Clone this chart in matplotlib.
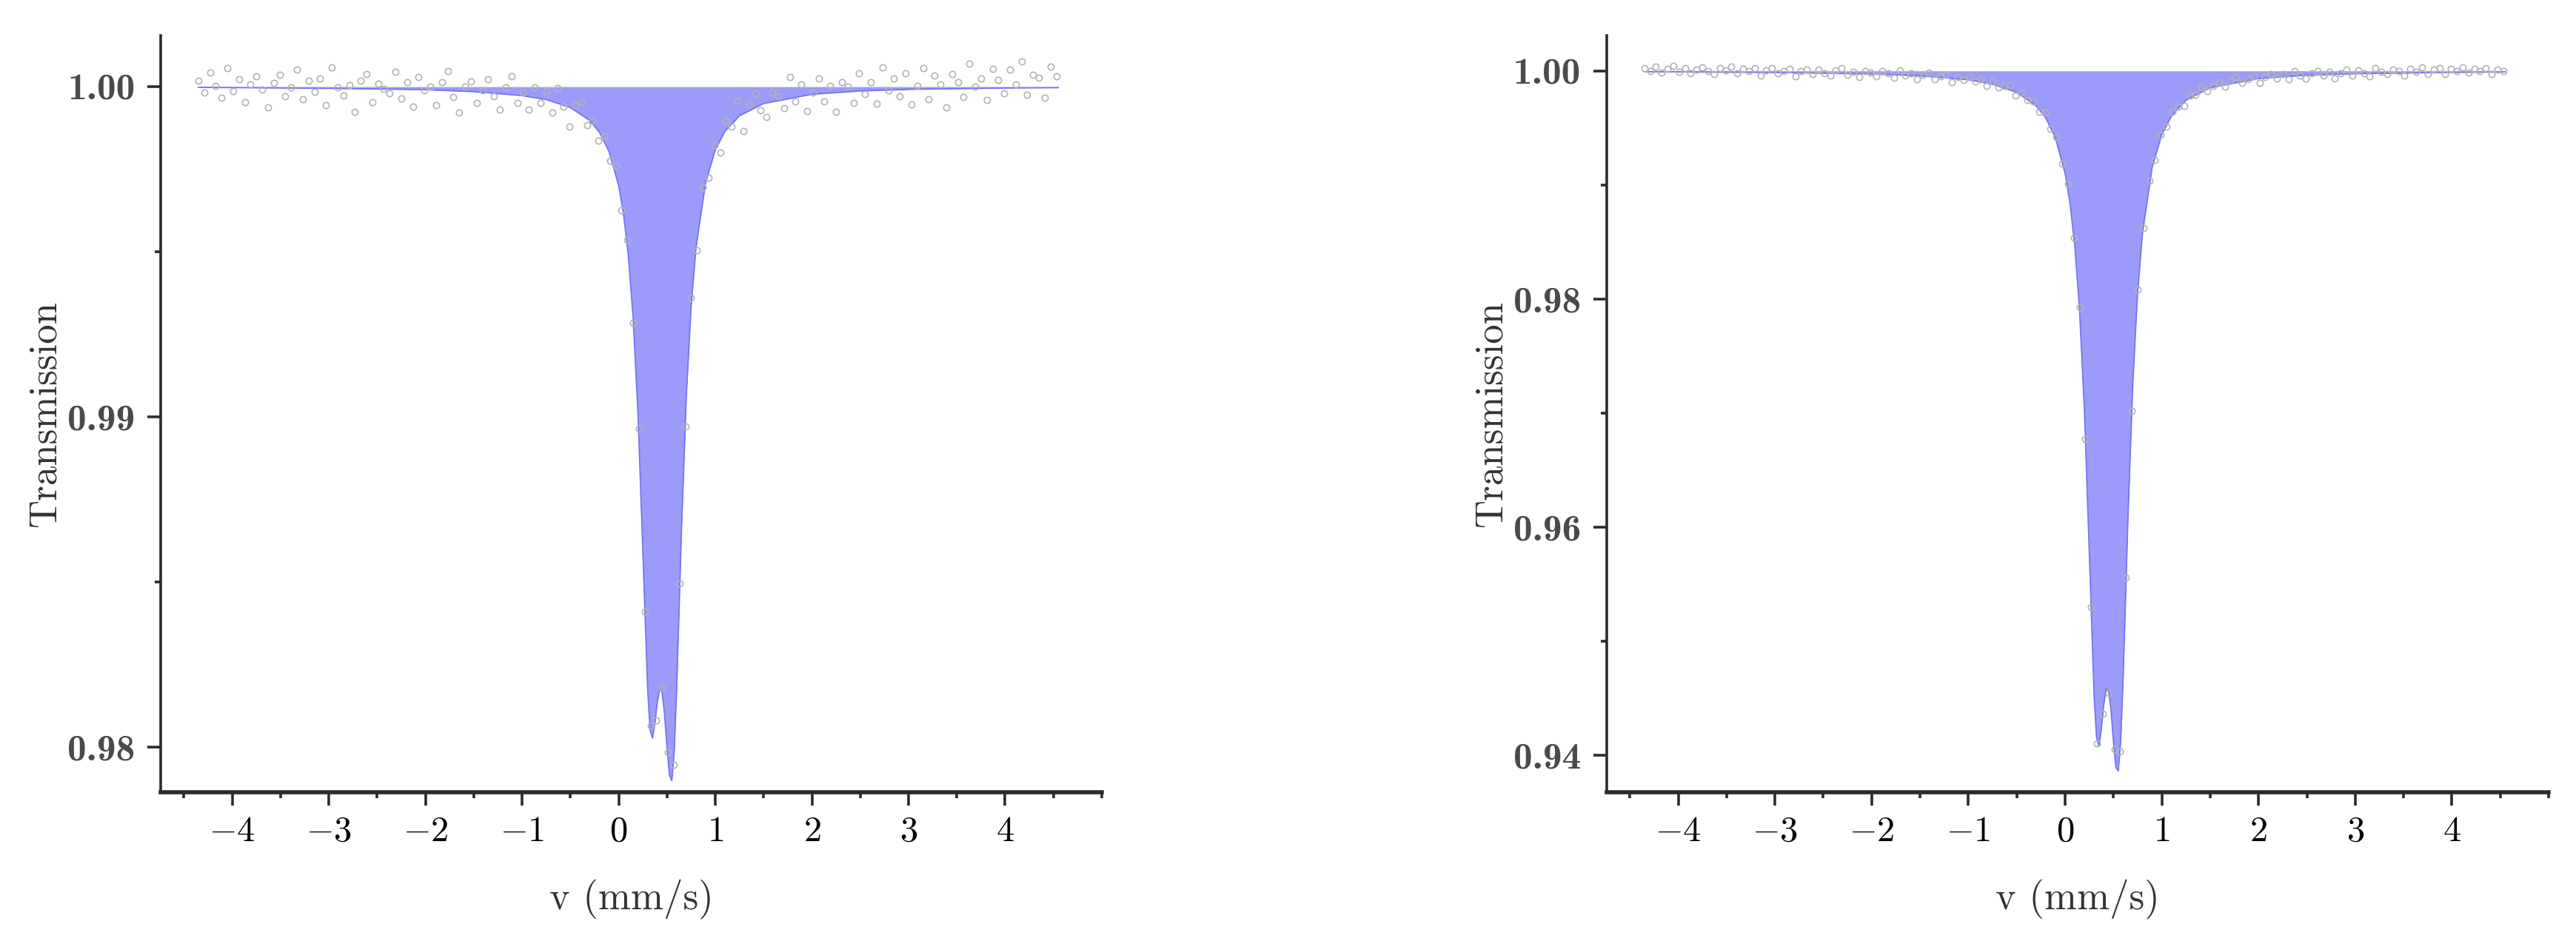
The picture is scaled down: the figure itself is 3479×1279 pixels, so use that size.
import numpy as np
import matplotlib
matplotlib.use('Agg')
import matplotlib.pyplot as plt
from matplotlib.ticker import FixedLocator, MultipleLocator, FuncFormatter, FormatStrFormatter

plt.rcParams['font.family'] = 'serif'
plt.rcParams['font.serif'] = ['cmr10']
plt.rcParams['mathtext.fontset'] = 'cm'

# velocity calibration of the spectrometer channels (mm/s)
v0, dv = -4.35, 0.06

# measured points, (T - 1) in units of 1e-5, one value per channel
dev_left = [17, -18, 42, 2, -33, 57, -13, 22, -48, 7,
            32, -8, -63, 12, 37, -28, -3, 52, -38, 17,
            -16, 24, -56, 59, -1, -26, 4, -76, 19, 39,
            -46, 9, -6, -21, 44, -36, 14, -61, 29, -11,
            0, -56, 14, 48, -32, -78, 1, 15, -50, -11,
            23, -28, -70, -1, 32, -50, -17, -69, -2, -50,
            -14, -79, -4, -60, -122, -56, -48, -116, -102, -164,
            -150, -225, -240, -375, -465, -716, -1035, -1590, -1935, -1920,
            -1820, -2015, -2055, -1505, -1030, -640, -495, -305, -275, -178,
            -200, -102, -120, -42, -134, -53, -19, -72, -91, -17,
            -28, -65, 29, -44, 8, -74, -17, 24, -44, 2,
            -77, 14, 0, -49, 41, -23, 13, -52, 59, -11,
            25, -30, 41, -54, 2, 57, -38, 33, 8, -62,
            39, 14, -31, 69, 0, 25, -40, 55, 20, -20,
            51, 6, 76, -24, 36, 26, -34, 61, 31]

dev_right = [21, 1, 36, -14, 16, 41, -9, 26, -24, 11,
             31, -4, -29, 21, 6, 36, -19, 16, -4, 26,
             -40, 5, 25, -20, 0, 15, -45, -5, 10, -30,
             13, -22, -42, 3, 23, -32, -7, -57, -2, -17,
             -45, -2, -24, -61, 2, -43, -21, -74, -32, -15,
             -71, -45, -35, -100, -53, -83, -49, -91, -75, -129,
             -90, -143, -133, -125, -214, -190, -256, -269, -357, -367,
             -508, -582, -814, -986, -1461, -2074, -3230, -4700, -5895, -5635,
             -5457, -5950, -5965, -4442, -2980, -1915, -1378, -963, -784, -563,
             -487, -361, -311, -304, -216, -209, -142, -177, -130, -102,
             -141, -86, -57, -105, -74, -47, -106, -51, -27, -68,
             -30, -72, 1, -42, -70, -23, -1, -44, -8, -66,
             -20, 11, -43, 3, -21, -50, 21, -8, -27, 9,
             0, -39, 17, -8, 33, -26, 9, 25, -30, 16,
             1, 32, -18, 18, -2, 23, -31, 14, -5]

# fitted doublet, (T - 1) in units of 1e-5
v_fit = [-4.35, -3.0, -2.0, -1.5, -1.0, -0.75, -0.5, -0.3, -0.2, -0.1,
         0.0, 0.05, 0.1, 0.15, 0.2, 0.25, 0.3, 0.325, 0.35, 0.375,
         0.4, 0.425, 0.45, 0.475, 0.5, 0.525, 0.55, 0.575, 0.6, 0.625,
         0.65, 0.7, 0.75, 0.8, 0.9, 1.0, 1.1, 1.25, 1.5, 2.0,
         2.5, 3.0, 4.0, 4.55]
fit_left = [-2, -5, -9, -15, -27, -39, -63, -102, -138, -196,
            -300, -385, -511, -701, -993, -1406, -1827, -1948, -1973, -1928,
            -1863, -1824, -1835, -1901, -2000, -2085, -2102, -2012, -1824, -1585,
            -1342, -937, -665, -487, -290, -191, -135, -88, -51, -23,
            -13, -8, -4, -3]
fit_right = [-7, -14, -27, -43, -78, -117, -188, -306, -413, -587,
             -899, -1154, -1532, -2104, -2979, -4218, -5481, -5844, -5919, -5765,
             -5552, -5417, -5432, -5608, -5880, -6109, -6138, -5875, -5326, -4628,
             -3919, -2736, -1940, -1423, -846, -557, -394, -257, -148, -67,
             -38, -25, -13, -9]

x_ticks = [-4, -3, -2, -1, 0, 1, 2, 3, 4]
left_yticks = [0.98, 0.99, 1.00]
right_yticks = [0.94, 0.96, 0.98, 1.00]

fill_col = '#9b9bfa'
line_col = '#7474f2'
axis_col = '#2b2b2b'


def panel(ax, dev_data, dev_fit, ylim, yticks, yminor):
    ch = np.arange(len(dev_data))
    v_data = v0 + dv * ch
    t_data = 1 + np.array(dev_data) / 1e5
    t_fit = 1 + np.array(dev_fit) / 1e5

    ax.fill_between(v_fit, t_fit, 1.0, color=fill_col, lw=0, zorder=2)
    ax.plot(v_fit, t_fit, color=line_col, lw=1.3, zorder=3)
    ax.plot(v_data, t_data, 'o', ms=6, mfc='none', mec='#b3b3b3',
            mew=1.2, zorder=4)

    ax.set_xlim(-4.74, 5.0)
    ax.set_ylim(*ylim)

    for s in ['top', 'right']:
        ax.spines[s].set_visible(False)
    ax.spines['left'].set_linewidth(2.6)
    ax.spines['bottom'].set_linewidth(4)
    ax.spines['left'].set_color(axis_col)
    ax.spines['bottom'].set_color(axis_col)

    ax.xaxis.set_major_locator(FixedLocator(x_ticks))
    ax.xaxis.set_minor_locator(MultipleLocator(0.5))
    ax.xaxis.set_major_formatter(FuncFormatter(lambda x, p: '$%d$' % round(x)))
    ax.yaxis.set_major_locator(FixedLocator(yticks))
    ax.yaxis.set_minor_locator(MultipleLocator(yminor))
    ax.yaxis.set_major_formatter(FormatStrFormatter('%.2f'))

    ax.tick_params(which='major', direction='out', length=13, width=2.6,
                   color=axis_col)
    ax.tick_params(which='minor', direction='out', length=6, width=2.6,
                   color=axis_col)
    ax.tick_params(axis='x', which='major', labelsize=35, pad=10)
    ax.tick_params(axis='y', which='major', labelsize=37, pad=12)
    for lab in ax.get_yticklabels():
        lab.set_fontfamily('cmb10')
        lab.set_color('#4a4a4a')

    ax.set_xlabel('v (mm/s)', fontsize=38, color='#333333')
    ax.set_ylabel('Transmission', fontsize=38, color='#333333')
    ax.xaxis.set_label_coords(0.5, -0.115)
    ax.yaxis.set_label_coords(-0.104, 0.5)


fig = plt.figure(figsize=(34.79, 12.79), dpi=100)
ax1 = fig.add_axes([0.0624, 0.1634, 0.3653, 0.7991])
ax2 = fig.add_axes([0.6237, 0.1634, 0.3657, 0.7991])

panel(ax1, dev_left, fit_left, (0.97863, 1.00155), left_yticks, 0.005)
panel(ax2, dev_right, fit_right, (0.93675, 1.0031), right_yticks, 0.01)

fig.savefig('out.png', dpi=100)
